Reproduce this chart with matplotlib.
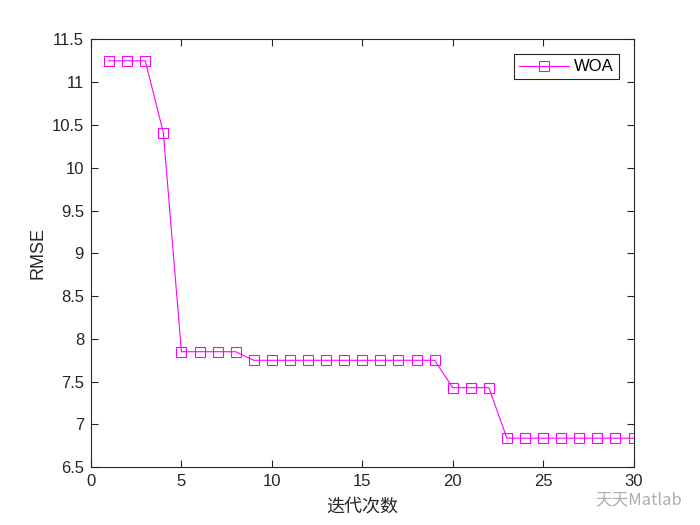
import numpy as np
import matplotlib.pyplot as plt

plt.rcParams['font.family'] = ['Liberation Sans', 'Noto Sans CJK SC', 'DejaVu Sans']

# 迭代曲线
iters = np.arange(1, 31)
rmse = [11.25, 11.25, 11.25, 10.41,
        7.85, 7.85, 7.85, 7.85,
        7.75, 7.75, 7.75, 7.75, 7.75, 7.75, 7.75, 7.75, 7.75, 7.75, 7.75,
        7.43, 7.43, 7.43,
        6.84, 6.84, 6.84, 6.84, 6.84, 6.84, 6.84, 6.84]

fig = plt.figure(figsize=(7, 5.25), dpi=100)
ax = fig.add_axes([0.13, 0.11, 0.775, 0.815])

ax.plot(iters, rmse, color='#ff00ff', lw=0.8, marker='s', ms=7,
        mfc='none', mew=0.8, label='WOA')

ax.set_xlim(0, 30)
ax.set_ylim(6.5, 11.5)
ax.set_xticks(np.arange(0, 31, 5))
ax.set_yticks(np.arange(6.5, 11.51, 0.5))
ax.set_yticklabels(['6.5', '7', '7.5', '8', '8.5', '9', '9.5', '10', '10.5', '11', '11.5'])
ax.tick_params(direction='in', top=True, right=True, labelsize=12, length=5,
               width=0.8, colors='#262626', labelcolor='#262626', pad=5)
for s in ax.spines.values():
    s.set_linewidth(0.8)
    s.set_color('#262626')

ax.set_xlabel('迭代次数', fontsize=13, family=['Noto Sans CJK SC'], color='#262626',
              labelpad=6)
ax.set_ylabel('RMSE', fontsize=13, color='#262626', labelpad=4)

leg = ax.legend(loc='upper right', fontsize=12, fancybox=False, framealpha=1,
                edgecolor='#262626', borderaxespad=0.9, handlelength=3.0,
                borderpad=0.3, handletextpad=0.3)
leg.get_frame().set_linewidth(0.8)

fig.text(0.85, 0.04, '天天Matlab', fontsize=12, color='#999999', alpha=0.8,
         family=['Noto Sans CJK SC'])

fig.savefig('out.png', dpi=100)
